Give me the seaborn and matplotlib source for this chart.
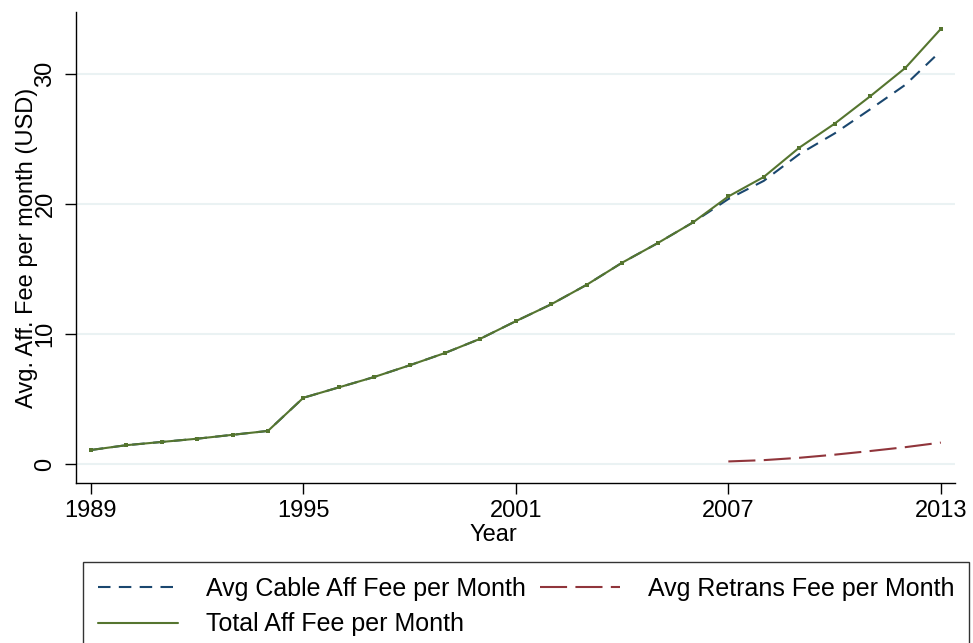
import numpy as np
import pandas as pd
import matplotlib
matplotlib.use("Agg")
import matplotlib.pyplot as plt
from matplotlib.lines import Line2D
import seaborn as sns

years = list(range(1989, 2014))
total_fee = [1.08, 1.45, 1.7, 1.95, 2.25, 2.55, 5.1, 5.9, 6.7, 7.6, 8.55, 9.65,
             11.0, 12.3, 13.8, 15.5, 17.0, 18.6, 20.6, 22.1, 24.35, 26.2, 28.3, 30.5, 33.5]
cable_fee = [1.08, 1.45, 1.7, 1.95, 2.25, 2.55, 5.1, 5.9, 6.7, 7.6, 8.55, 9.65,
             11.0, 12.3, 13.8, 15.5, 17.0, 18.6, 20.4, 21.8, 23.85, 25.45, 27.3, 29.2, 31.8]
retrans_years = list(range(2007, 2014))
retrans_fee = [0.2, 0.3, 0.48, 0.72, 1.0, 1.3, 1.65]

x_ticks = [1989, 1995, 2001, 2007, 2013]
y_ticks = [0, 10, 20, 30]

sns.set_style("white")
plt.rcParams['font.family'] = ['Liberation Sans', 'DejaVu Sans']
plt.rcParams['text.color'] = 'black'
plt.rcParams['axes.labelcolor'] = 'black'
plt.rcParams['xtick.color'] = 'black'
plt.rcParams['ytick.color'] = 'black'
FS = 17
LFS = 18

navy = (26/255, 71/255, 111/255)
maroon = (144/255, 53/255, 59/255)
green = (85/255, 117/255, 47/255)

fig = plt.figure(figsize=(9.73, 6.43), dpi=100)
ax = fig.add_axes([76/973, 1-483/643, (955-76)/973, (483-12)/643])

df_c = pd.DataFrame({"Year": years, "v": cable_fee})
df_t = pd.DataFrame({"Year": years, "v": total_fee})
df_r = pd.DataFrame({"Year": retrans_years, "v": retrans_fee})

lw = 1.5
cable_dash = [6.0, 4.0]
retrans_dash = [13.0, 4.0]
sns.lineplot(data=df_c, x="Year", y="v", ax=ax, color=navy, lw=lw, legend=False)
ax.lines[-1].set_dashes(cable_dash)
sns.lineplot(data=df_r, x="Year", y="v", ax=ax, color=maroon, lw=lw, legend=False)
ax.lines[-1].set_dashes(retrans_dash)
sns.lineplot(data=df_t, x="Year", y="v", ax=ax, color=green, lw=lw,
             marker="s", markersize=2.2, markeredgewidth=0, legend=False)

ax.set_xlim(1988.58, 2013.4)
ax.set_ylim(-1.46, 34.8)
ax.set_xticks(x_ticks)
ax.set_yticks(y_ticks)
ax.set_xticklabels([str(t) for t in x_ticks], fontsize=FS)
ax.set_yticklabels([str(t) for t in y_ticks], fontsize=FS, rotation=90, va='center')
ax.tick_params(axis='both', length=8, width=1, color='black', direction='out',
               bottom=True, left=True, labelcolor='black')
ax.tick_params(axis='y', pad=6)
ax.tick_params(axis='x', pad=4)
ax.grid(axis='y', color='#eaf2f3', lw=1.5)
ax.grid(axis='x', visible=False)
for s in ['top', 'right']:
    ax.spines[s].set_visible(False)
for s in ['left', 'bottom']:
    ax.spines[s].set_color('black')
    ax.spines[s].set_linewidth(1)

ax.set_xlabel("Year", fontsize=FS)
ax.set_ylabel("Avg. Aff. Fee per month (USD)", fontsize=FS)
ax.xaxis.set_label_coords(0.475, -0.086)
ax.yaxis.set_label_coords(-0.043, 0.5)

h_cable = Line2D([], [], color=navy, lw=lw, dashes=cable_dash)
h_retrans = Line2D([], [], color=maroon, lw=lw, dashes=retrans_dash)
h_total = Line2D([], [], color=green, lw=lw)
leg = fig.legend([h_cable, h_total, h_retrans],
                 ["Avg Cable Aff Fee per Month", "Total Aff Fee per Month",
                  "Avg Retrans Fee per Month"],
                 loc='upper left', ncol=2,
                 bbox_to_anchor=(83/973, 1-562/643),
                 fontsize=LFS, frameon=True, fancybox=False,
                 edgecolor='black', handlelength=3.2, handletextpad=1.1,
                 borderaxespad=0, labelspacing=0.45, borderpad=0.6,
                 columnspacing=0.6)
leg.get_frame().set_linewidth(1)

fig.savefig("out.png", dpi=100)
